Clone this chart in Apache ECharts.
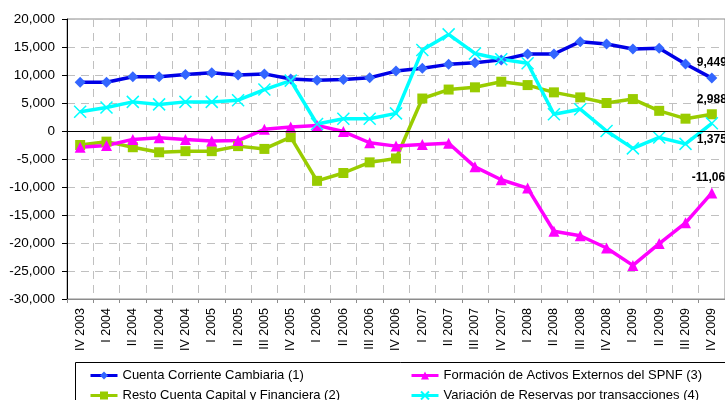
<!DOCTYPE html>
<html>
<head>
<meta charset="utf-8">
<script src="https://cdn.jsdelivr.net/npm/echarts@6/dist/echarts.min.js"></script>
<style>
  html, body { margin: 0; padding: 0; background: #ffffff; }
  #chart { width: 725px; height: 400px; }
</style>
</head>
<body>
<div id="chart"></div>
<script>
// Quarterly balance-of-payments flows (millions), IV 2003 – IV 2009
const categories = [
  'IV 2003', 'I 2004', 'II 2004', 'III 2004', 'IV 2004',
  'I 2005', 'II 2005', 'III 2005', 'IV 2005',
  'I 2006', 'II 2006', 'III 2006', 'IV 2006',
  'I 2007', 'II 2007', 'III 2007', 'IV 2007',
  'I 2008', 'II 2008', 'III 2008', 'IV 2008',
  'I 2009', 'II 2009', 'III 2009', 'IV 2009'
];

const cuentaCorriente = [
  8700, 8700, 9700, 9700, 10100, 10400, 10000, 10200, 9300,
  9050, 9200, 9500, 10700, 11200, 11900, 12200, 12700,
  13750, 13750, 15950, 15540, 14640, 14760, 11960, 9449
];

const restoCapital = [
  -2500, -1900, -2900, -3800, -3600, -3600, -2700, -3200, -1100,
  -8900, -7500, -5600, -4900, 5800, 7400, 7800, 8800,
  8200, 6900, 6000, 5000, 5700, 3600, 2200, 2988
];

const formacionActivos = [
  -2900, -2600, -1500, -1200, -1500, -1800, -1700, 300, 700,
  1000, -100, -2100, -2700, -2400, -2200, -6400, -8700,
  -10200, -17900, -18700, -20900, -24000, -20100, -16400, -11061
];

const variacionReservas = [
  3450, 4200, 5200, 4750, 5200, 5200, 5500, 7400, 9000,
  1250, 2200, 2200, 3150, 14450, 17250, 13850, 12800,
  12100, 3000, 3900, 0, -3100, -1150, -2300, 1375
];

const seriesNames = [
  'Cuenta Corriente Cambiaria (1)',
  'Resto Cuenta Capital y Financiera (2)',
  'Formación de Activos Externos del SPNF (3)',
  'Variación de Reservas por transacciones (4)'
];

const yTicks = { min: -30000, max: 20000, step: 5000 };

const fmt = v => Number(v).toLocaleString('en-US');
const FONT = '"Liberation Sans", Arial, sans-serif';

// Only the final quarter carries a value label
function withEndLabel(values, position) {
  return values.map((v, i) => i === values.length - 1
    ? { value: v, label: { show: true, position: position } }
    : v);
}

const endLabelStyle = {
  color: '#000000',
  fontFamily: FONT,
  fontWeight: 'bold',
  fontSize: 12,
  distance: 4,
  formatter: p => fmt(p.value)
};

// One legend entry per slot: two columns, two rows
const legendSlots = [[89, 369], [89, 389], [410, 369], [410, 389]];
const legends = seriesNames.map((name, i) => ({
  left: legendSlots[i][0], top: legendSlots[i][1], padding: 0,
  itemWidth: 27, itemHeight: 10,
  lineStyle: { width: 3 },
  textStyle: { color: '#000000', fontFamily: FONT, fontSize: 13 },
  data: [name]
}));

const chart = echarts.init(document.getElementById('chart'), null, { renderer: 'canvas' });

chart.setOption({
  animation: false,
  backgroundColor: '#ffffff',
  grid: {
    left: 67, top: 19, right: -4, bottom: 101,
    show: true, borderColor: '#8c8c8c', borderWidth: 1, backgroundColor: 'transparent'
  },
  xAxis: {
    type: 'category',
    data: categories,
    boundaryGap: true,
    axisLine: { onZero: false, lineStyle: { color: '#8c8c8c', width: 1 } },
    axisTick: { show: true, length: 4, interval: 0, lineStyle: { color: '#8c8c8c' } },
    axisLabel: {
      interval: 0, rotate: 90, margin: 9,
      color: '#000000', fontFamily: FONT, fontSize: 12.5
    },
    splitLine: {
      show: true, interval: 0,
      lineStyle: { color: '#c0c0c0', type: [8, 6], width: 1 }
    }
  },
  yAxis: {
    type: 'value',
    min: yTicks.min, max: yTicks.max, interval: yTicks.step,
    axisLine: { show: true, lineStyle: { color: '#000000', width: 1 } },
    axisTick: { show: true, length: 5, lineStyle: { color: '#000000' } },
    axisLabel: {
      margin: 12, color: '#000000', fontFamily: FONT, fontSize: 13.5,
      formatter: v => fmt(v)
    },
    splitLine: { show: true, lineStyle: { color: '#c0c0c0', type: [8, 6], width: 1 } }
  },
  legend: legends,
  graphic: [
    {
      type: 'rect', silent: true, z: -1,
      shape: { x: 75.5, y: 362.5, width: 700, height: 60 },
      style: { fill: '#ffffff', stroke: '#000000', lineWidth: 1 }
    }
  ],
  series: [
    {
      name: seriesNames[0],
      type: 'line',
      data: withEndLabel(cuentaCorriente, 'top'),
      symbol: 'diamond', symbolSize: 11,
      lineStyle: { color: '#0000e6', width: 3.5 },
      itemStyle: { color: '#3366ff' },
      label: endLabelStyle,
      markLine: {
        silent: true, symbol: 'none', label: { show: false },
        lineStyle: { color: '#000000', type: 'solid', width: 1 },
        data: [{ yAxis: 0 }]
      }
    },
    {
      name: seriesNames[1],
      type: 'line',
      data: withEndLabel(restoCapital, 'top'),
      symbol: 'rect', symbolSize: 10,
      lineStyle: { color: '#99cc00', width: 3.5 },
      itemStyle: { color: '#99cc00' },
      label: endLabelStyle
    },
    {
      name: seriesNames[2],
      type: 'line',
      data: withEndLabel(formacionActivos, 'top'),
      symbol: 'triangle', symbolSize: 11,
      lineStyle: { color: '#ff00ff', width: 3.5 },
      itemStyle: { color: '#ff00ff' },
      label: endLabelStyle
    },
    {
      name: seriesNames[3],
      type: 'line',
      data: withEndLabel(variacionReservas, 'bottom'),
      symbol: 'path://M0,0L10,10M10,0L0,10', symbolSize: 12,
      lineStyle: { color: '#00ffff', width: 3.5 },
      itemStyle: { color: 'transparent', borderColor: '#00ffff', borderWidth: 1.5 },
      label: endLabelStyle
    }
  ]
});
</script>
</body>
</html>
